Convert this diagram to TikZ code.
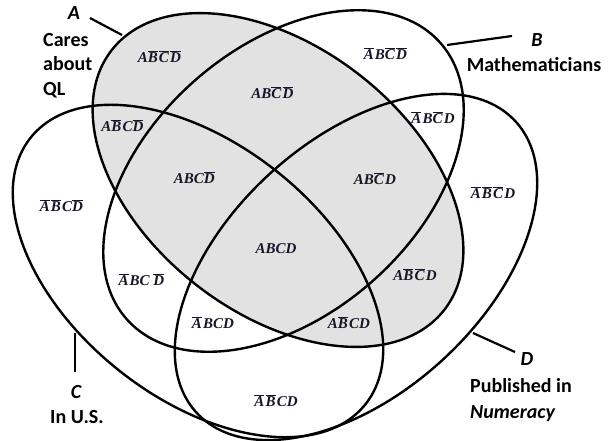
\documentclass[tikz,border=0pt]{standalone}
\usepackage{fontspec}
\setmainfont{Carlito}
\newfontfamily\regfont{Liberation Serif}
\definecolor{shadeA}{RGB}{226,226,226}
\definecolor{regc}{RGB}{22,22,40}
\newcommand{\ov}[1]{$\overline{\mbox{#1}}$\kern1.2pt}
\begin{document}
\begin{tikzpicture}[x=1pt,y=1pt,
  ell/.style={line width=2.4pt},
  reg/.style={font=\regfont\fontsize{15}{17}\selectfont\bfseries\itshape, text=regc, inner sep=0pt},
  lab/.style={font=\fontsize{20}{24}\selectfont\bfseries, inner sep=0pt, anchor=base},
  labi/.style={lab, font=\fontsize{20}{24}\selectfont\bfseries\itshape},
  lead/.style={line width=2.2pt}]
\useasboundingbox (0,0) rectangle (611,-441);
\fill[white] (0,0) rectangle (611,-441);
% set A (shaded)
\fill[shadeA, rotate around={-38:(278,-180)}] (278,-180) ellipse [x radius=211, y radius=133];
\draw[ell, rotate around={-38:(278,-180)}] (278,-180) ellipse [x radius=211, y radius=133];
% set B
\draw[ell, rotate around={41.3:(283.5,-181)}] (283.5,-181) ellipse [x radius=209, y radius=134];
% set C
\draw[ell, rotate around={-38.5:(198,-271)}] (198,-271) ellipse [x radius=214, y radius=127];
% set D
\draw[ell, rotate around={42.3:(356,-267)}] (356,-267) ellipse [x radius=216, y radius=127];

% region labels
\node[reg] (r1) at (160,-57) {A\ov{B}\ov{C}\ov{D}};
\node[reg] (r2) at (386,-54) {\ov{A}B\ov{C}\ov{D}};
\node[reg] (r3) at (273,-93) {AB\ov{C}\ov{D}};
\node[reg] (r4) at (123,-126) {A\ov{B}C\ov{D}};
\node[reg] (r5) at (433,-118) {\ov{A}B\ov{C}D};
\node[reg] (r6) at (62,-206) {\ov{A}\ov{B}C\ov{D}};
\node[reg] (r7) at (195,-178) {ABC\ov{D}};
\node[reg] (r8) at (375,-179) {AB\ov{C}D};
\node[reg] (r9) at (493,-193) {\ov{A}\ov{B}\ov{C}D};
\node[reg] (r10) at (276,-249) {ABCD};
\node[reg] (r11) at (142,-280) {\ov{A}BC \ov{D}};
\node[reg] (r12) at (415,-275) {A\ov{B}\ov{C}D};
\node[reg] (r13) at (213,-323) {\ov{A}BCD};
\node[reg] (r14) at (349,-323) {A\ov{B}CD};
\node[reg] (r15) at (276,-401) {\ov{A}\ov{B}CD};

% set labels
\node[labi] (labA) at (74,-20) {A};
\node[lab, anchor=base west] (cares) at (43,-47) {Cares};
\node[lab, anchor=base west] (about) at (43,-71) {about};
\node[lab, anchor=base west] (ql) at (43,-96) {QL};
\coordinate (aP) at (122,-35);
\coordinate (aE) at (90,-18);
\draw[lead] (aP) -- (aE);

\node[labi] (labB) at (537,-47) {B};
\node[lab] (math) at (534,-72) {Mathematicians};
\coordinate (bP) at (447,-45);
\coordinate (bE) at (512,-36);
\draw[lead] (bP) -- (bE);

\node[labi] (labC) at (76,-398) {C};
\node[lab] (inus) at (77,-423) {In U.S.};
\coordinate (cP) at (75,-333);
\coordinate (cE) at (75,-372);
\draw[lead] (cP) -- (cE);

\node[labi] (labD) at (527,-365) {D};
\node[lab, anchor=base west] (pub) at (470,-392) {Published in};
\node[labi, anchor=base west] (num) at (470,-418) {Numeracy};
\coordinate (dP) at (473,-333);
\coordinate (dE) at (515,-352);
\draw[lead] (dP) -- (dE);
\end{tikzpicture}
\end{document}
